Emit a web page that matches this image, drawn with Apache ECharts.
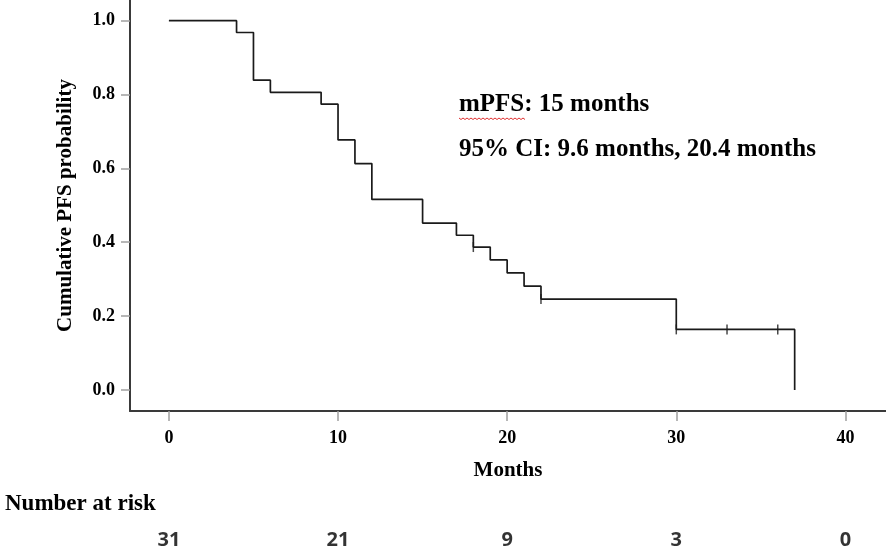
<!DOCTYPE html>
<html>
<head>
<meta charset="utf-8">
<script src="https://cdn.jsdelivr.net/npm/echarts@6/dist/echarts.min.js"></script>
<style>
  html, body { margin: 0; padding: 0; background: #fff; }
  #chart { width: 886px; height: 557px; }
</style>
</head>
<body>
<div id="chart"></div>
<script>
// Kaplan-Meier PFS curve
const eventMonths = [0, 4, 5, 6, 9, 10, 11, 12, 15, 17, 18, 19, 20, 21, 22, 30, 37]
const survival = [1.0, 0.968, 0.839, 0.806, 0.774, 0.677, 0.613, 0.516, 0.452, 0.419, 0.387, 0.352, 0.317, 0.281, 0.246, 0.164, 0.0]

// censored observations
const censorMonths = [18, 22, 30, 33, 36]
const censorSurvival = [0.387, 0.246, 0.164, 0.164, 0.164]

const xTicks = [0, 10, 20, 30, 40]
const yTicks = [0, 0.2, 0.4, 0.6, 0.8, 1.0]

const riskMonths = [0, 10, 20, 30, 40]
const riskCounts = [31, 21, 9, 3, 0]

const serif = '"Liberation Serif", "Times New Roman", serif'

const chart = echarts.init(document.getElementById('chart'))

const curve = eventMonths.map((m, i) => [m, survival[i]])
const censored = censorMonths.map((m, i) => [m, censorSurvival[i]])
const risk = riskMonths.map((m, i) => [m, 0.5, riskCounts[i]])

// red spell-check squiggle under "mPFS"
const squiggle = []
for (let i = 0; i <= 33; i++) squiggle.push([459 + i * 2, 118 + (i % 2 ? 1.5 : 0)])

const option = {
  backgroundColor: '#fff',
  animation: false,
  grid: [
    { left: 130, right: 0, top: 0, bottom: 146 },
    { left: 130, right: 0, top: 530, height: 20 }
  ],
  xAxis: [
    {
      type: 'value',
      min: -2.3,
      max: 42.4,
      name: 'Months',
      nameLocation: 'middle',
      nameGap: 49,
      nameTextStyle: { fontFamily: serif, fontWeight: 'bold', fontSize: 21, color: '#000' },
      axisLine: { show: true, onZero: false, lineStyle: { color: '#3a3a3a', width: 2 } },
      axisTick: { show: true, customValues: xTicks, length: 10, lineStyle: { color: '#a0a0a0', width: 1.5 } },
      axisLabel: { customValues: xTicks, margin: 18, fontFamily: serif, fontWeight: 'bold', fontSize: 18, color: '#000' },
      splitLine: { show: false }
    },
    {
      type: 'value',
      gridIndex: 1,
      min: -2.3,
      max: 42.4,
      show: false
    }
  ],
  yAxis: [
    {
      type: 'value',
      min: -0.057,
      max: 1.056,
      name: 'Cumulative PFS probability',
      nameLocation: 'middle',
      nameGap: 54,
      nameTextStyle: { fontFamily: serif, fontWeight: 'bold', fontSize: 21, color: '#000' },
      axisLine: { show: true, onZero: false, lineStyle: { color: '#3a3a3a', width: 2 } },
      axisTick: { show: true, customValues: yTicks, length: 9, lineStyle: { color: '#a0a0a0', width: 1.5 } },
      axisLabel: {
        customValues: yTicks,
        margin: 15,
        fontFamily: serif,
        fontWeight: 'bold',
        fontSize: 18,
        color: '#000',
        formatter: (v) => v.toFixed(1)
      },
      splitLine: { show: false }
    },
    {
      type: 'value',
      gridIndex: 1,
      min: 0,
      max: 1,
      show: false
    }
  ],
  series: [
    {
      name: 'PFS',
      type: 'line',
      step: 'end',
      data: curve,
      showSymbol: false,
      lineStyle: { color: '#1a1a1a', width: 1.7 }
    },
    {
      name: 'Censored',
      type: 'scatter',
      data: censored,
      symbol: 'rect',
      symbolSize: [1.5, 10],
      itemStyle: { color: '#1a1a1a' }
    },
    {
      name: 'Number at risk',
      type: 'scatter',
      xAxisIndex: 1,
      yAxisIndex: 1,
      data: risk,
      symbolSize: 0,
      label: {
        show: true,
        position: 'inside',
        formatter: (p) => String(p.value[2]),
        fontFamily: '"Noto Sans", "Open Sans", sans-serif',
        fontWeight: 'bold',
        fontSize: 20,
        color: '#000'
      }
    }
  ],
  graphic: [
    {
      type: 'text',
      left: 5,
      top: 493,
      style: { text: 'Number at risk', font: 'bold 23px ' + serif, fill: '#000' }
    },
    {
      type: 'text',
      left: 459,
      top: 92,
      style: { text: 'mPFS: 15 months', font: 'bold 25px ' + serif, fill: '#000' }
    },
    {
      type: 'text',
      left: 459,
      top: 137,
      style: { text: '95% CI: 9.6 months, 20.4 months', font: 'bold 25px ' + serif, fill: '#000' }
    },
    {
      type: 'polyline',
      shape: { points: squiggle },
      style: { stroke: '#e03030', lineWidth: 1, fill: null }
    }
  ]
}

chart.setOption(option)
</script>
</body>
</html>
